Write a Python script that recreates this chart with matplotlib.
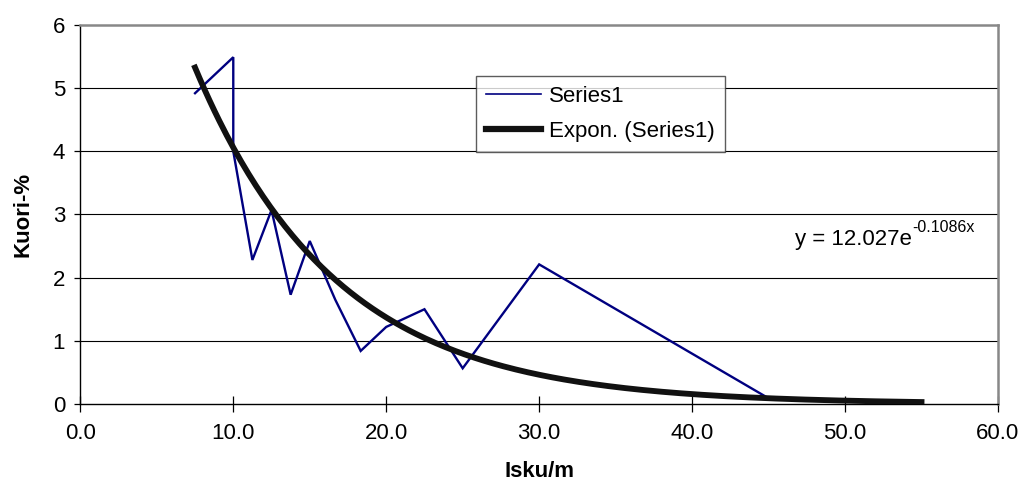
import numpy as np
import matplotlib
matplotlib.use("Agg")
import matplotlib.pyplot as plt

plt.rcParams['font.family'] = ['Liberation Sans', 'DejaVu Sans']

# Measured bark share against blows per metre
isku = [7.5, 10.0, 10.0, 11.25, 12.5, 13.75, 15.0, 16.67, 18.33, 20.0, 22.5, 25.0, 30.0, 45.0, 55.0]
kuori = [4.92, 5.49, 4.0, 2.28, 3.07, 1.73, 2.58, 1.65, 0.84, 1.22, 1.50, 0.565, 2.21, 0.09, 0.03]

# Exponential trend fit parameters
fit_a = 12.027
fit_b = -0.1086

x_ticks = [0, 10, 20, 30, 40, 50, 60]
y_ticks = [0, 1, 2, 3, 4, 5, 6]

fig = plt.figure(figsize=(10.26, 4.98), dpi=100)
ax = fig.add_axes([0.0783, 0.1888, 0.8944, 0.761])

ax.set_xlim(0, 60)
ax.set_ylim(0, 6)

for yv in y_ticks[1:-1]:
    ax.axhline(yv, color='black', lw=0.8, zorder=1)

ax.plot(isku, kuori, color='#000080', lw=1.7, label='Series1', zorder=3,
        solid_joinstyle='miter')

xs = np.linspace(min(isku), max(isku), 300)
ax.plot(xs, fit_a * np.exp(fit_b * xs), color='#111111', lw=4.2,
        label='Expon. (Series1)', zorder=4)

ax.set_xticks(x_ticks)
ax.set_xticklabels([f"{v:.1f}" for v in x_ticks])
ax.set_yticks(y_ticks)
ax.set_yticklabels([str(v) for v in y_ticks])
ax.tick_params(axis='x', direction='inout', length=12, width=0.9,
               labelsize=16, pad=8, colors='black')
ax.tick_params(axis='y', direction='out', length=4, width=0.9,
               labelsize=16, pad=7, colors='black')

for side in ('left', 'bottom'):
    ax.spines[side].set_color('black')
    ax.spines[side].set_linewidth(1.0)
for side in ('top', 'right'):
    ax.spines[side].set_color('#888888')
    ax.spines[side].set_linewidth(1.8)

ax.set_xlabel('Isku/m', fontsize=16, fontweight='bold', labelpad=12)
ax.set_ylabel('Kuori-%', fontsize=16, fontweight='bold', labelpad=14)

# Trend equation, with the exponent as a raised smaller label
eq = ax.text(0.7785, 0.4185, 'y = 12.027e', transform=ax.transAxes,
             fontsize=16, ha='left', va='baseline')
fig.canvas.draw()
bb = eq.get_window_extent()
ax.annotate('-0.1086x', xy=(bb.x1, bb.y0), xycoords='figure pixels',
            xytext=(0.5, 13), textcoords='offset points',
            fontsize=11.5, ha='left', va='baseline')

leg = ax.legend(loc='upper left', bbox_to_anchor=(0.431, 0.8654),
                fontsize=16, frameon=True, fancybox=False, handlelength=2.5,
                handletextpad=0.35, borderpad=0.45, labelspacing=0.62,
                borderaxespad=0)
leg.get_frame().set_edgecolor('#333333')
leg.get_frame().set_linewidth(1.0)
leg.get_lines()[0].set_linewidth(1.2)
leg.get_lines()[1].set_linewidth(4.5)
leg.set_zorder(5)

fig.savefig('out.png', dpi=100)
